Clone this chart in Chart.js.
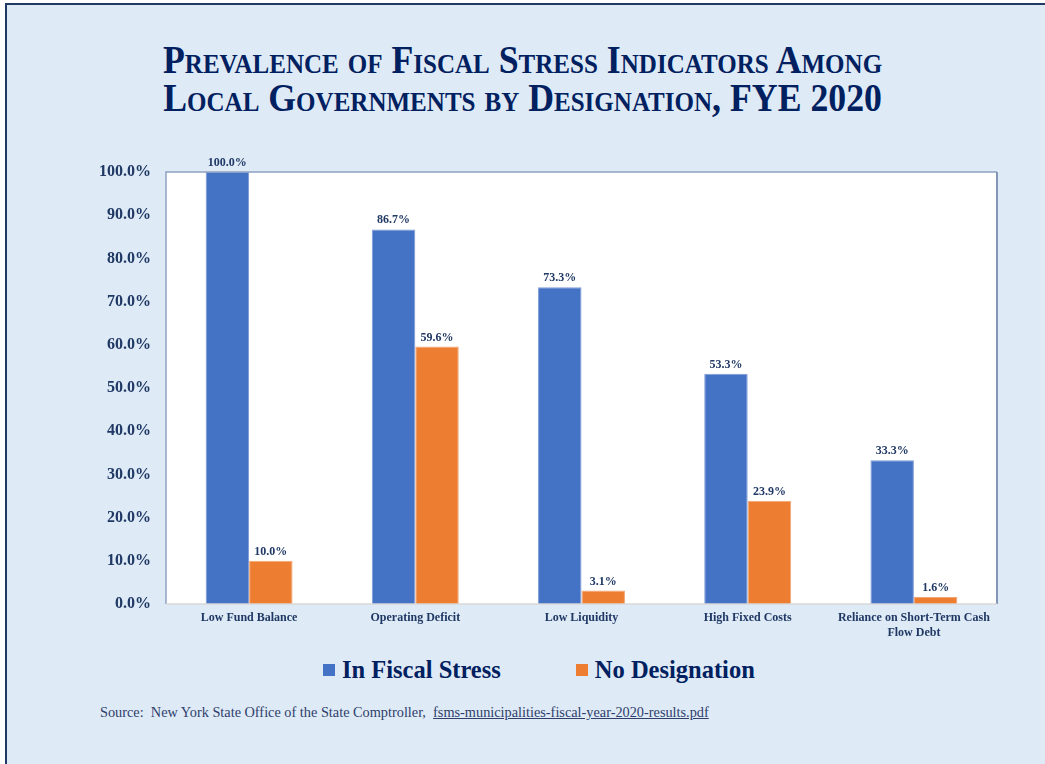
<!DOCTYPE html>
<html>
<head>
<meta charset="utf-8">
<title>Prevalence of Fiscal Stress Indicators</title>
<script src="https://cdn.jsdelivr.net/npm/chart.js@4.4.1/dist/chart.umd.min.js"></script>
<style>
  html, body { margin: 0; padding: 0; background: #ffffff; width: 1045px; height: 764px; overflow: hidden; }
  #frame { position: absolute; left: 5px; top: 3px; width: 1100px; height: 820px;
           border: 2px solid #1F3864; background: #DEEAF6; }
  #title { position: absolute; left: 0; width: 1045px; top: 41px; text-align: center;
           font-family: 'Liberation Serif', 'Times New Roman', serif; font-weight: bold;
           font-variant: small-caps; font-size: 40px; line-height: 38px; color: #002060;
           transform: scaleX(0.894); transform-origin: 523px 0; }
  #chartBox { position: absolute; left: 0; top: 140px; width: 1045px; height: 510px; }
  #legend { position: absolute; left: 323px; top: 656px; display: flex; align-items: center;
            font-family: 'Liberation Serif', 'Times New Roman', serif; font-weight: bold;
            font-size: 24.5px; color: #002060; white-space: nowrap; }
  #legend .item { display: flex; align-items: center; margin-right: 75px; }
  #legend .box { width: 12px; height: 12px; margin-right: 7px; }
  #source { position: absolute; left: 100px; top: 704px;
            font-family: 'Liberation Serif', 'Times New Roman', serif; font-size: 14.3px;
            color: #2F3E6B; white-space: nowrap; }
  #source span { text-decoration: underline; }
</style>
</head>
<body>
<div id="frame"></div>
<div id="title">Prevalence of Fiscal Stress Indicators Among<br>Local Governments by Designation, FYE 2020</div>
<div id="chartBox"><canvas id="chart" width="1045" height="510"></canvas></div>
<div id="legend"></div>
<div id="source">Source:&nbsp; New York State Office of the State Comptroller,&nbsp; <span>fsms-municipalities-fiscal-year-2020-results.pdf</span></div>
<script>
// Indicator categories (last one wraps onto two lines)
const categories = [
  'Low Fund Balance',
  'Operating Deficit',
  'Low Liquidity',
  'High Fixed Costs',
  ['Reliance on Short-Term Cash', 'Flow Debt']
];

// Share of local governments showing each indicator, in percent
const seriesNames = ['In Fiscal Stress', 'No Designation'];
const inFiscalStress = [100.0, 86.7, 73.3, 53.3, 33.3];
const noDesignation = [10.0, 59.6, 3.1, 23.9, 1.6];
const seriesColors = ['#4472C4', '#ED7D31'];
const seriesEdges = ['#7D9BD6', '#F3A673'];

// Y axis range and step, in percent
const yMin = 0;
const yMax = 100;
const yStep = 10;

const serif = "'Liberation Serif', 'Times New Roman', serif";
const navy = '#1F3864';

// White plot area with its thin frame
const plotFrame = {
  id: 'plotFrame',
  beforeDraw(chart) {
    const { ctx, chartArea: a } = chart;
    ctx.save();
    ctx.fillStyle = '#ffffff';
    ctx.fillRect(a.left, a.top, a.right - a.left, a.bottom - a.top);
    ctx.restore();
  },
  afterDatasetsDraw(chart) {
    const { ctx, chartArea: a } = chart;
    ctx.save();
    ctx.strokeStyle = '#8EA1C3';
    ctx.lineWidth = 1.5;
    ctx.beginPath();
    ctx.moveTo(a.left, a.bottom);
    ctx.lineTo(a.left, a.top);
    ctx.lineTo(a.right, a.top);
    ctx.stroke();
    ctx.lineWidth = 2;
    ctx.strokeStyle = '#8496B8';
    ctx.beginPath();
    ctx.moveTo(a.right, a.top);
    ctx.lineTo(a.right, a.bottom);
    ctx.stroke();
    ctx.lineWidth = 1.5;
    ctx.strokeStyle = '#D9D9D9';
    ctx.beginPath();
    ctx.moveTo(a.left, a.bottom);
    ctx.lineTo(a.right, a.bottom);
    ctx.stroke();
    ctx.restore();
  }
};

// Value labels printed above each bar
const valueLabels = {
  id: 'valueLabels',
  afterDatasetsDraw(chart) {
    const { ctx } = chart;
    ctx.save();
    ctx.font = 'bold 12px ' + serif;
    ctx.fillStyle = navy;
    ctx.textAlign = 'center';
    ctx.textBaseline = 'alphabetic';
    chart.data.datasets.forEach((ds, di) => {
      const meta = chart.getDatasetMeta(di);
      meta.data.forEach((bar, i) => {
        ctx.fillText(ds.data[i].toFixed(1) + '%', bar.x, bar.y - 6);
      });
    });
    ctx.restore();
  }
};

const datasets = [inFiscalStress, noDesignation].map((values, i) => ({
  label: seriesNames[i],
  data: values,
  backgroundColor: seriesColors[i],
  borderColor: seriesEdges[i],
  borderWidth: 1,
  categoryPercentage: 0.523,
  barPercentage: 1.0
}));

new Chart(document.getElementById('chart'), {
  type: 'bar',
  data: { labels: categories, datasets },
  plugins: [plotFrame, valueLabels],
  options: {
    responsive: false,
    animation: false,
    layout: { padding: { left: 0, right: 48, top: 32, bottom: 0 } },
    plugins: {
      legend: { display: false },
      tooltip: { enabled: false },
      title: { display: false }
    },
    scales: {
      x: {
        grid: { display: false, drawTicks: false },
        border: { display: false },
        ticks: {
          color: navy,
          padding: 7,
          maxRotation: 0,
          autoSkip: false,
          font: { family: serif, size: 12, weight: 'bold', lineHeight: 1.2 }
        },
        afterFit(scale) { scale.height = 46; }
      },
      y: {
        min: yMin,
        max: yMax,
        grid: { display: false, drawTicks: false },
        border: { display: false },
        ticks: {
          stepSize: yStep,
          color: navy,
          padding: 15,
          font: { family: serif, size: 16, weight: 'bold' },
          callback: (v) => v.toFixed(1) + '%'
        },
        afterFit(scale) { scale.width = 166; }
      }
    }
  }
});

// Legend row built from the same series names and colours
const legend = document.getElementById('legend');
seriesNames.forEach((name, i) => {
  const item = document.createElement('div');
  item.className = 'item';
  const box = document.createElement('div');
  box.className = 'box';
  box.style.background = seriesColors[i];
  const text = document.createElement('span');
  text.textContent = name;
  item.appendChild(box);
  item.appendChild(text);
  legend.appendChild(item);
});
</script>
</body>
</html>
